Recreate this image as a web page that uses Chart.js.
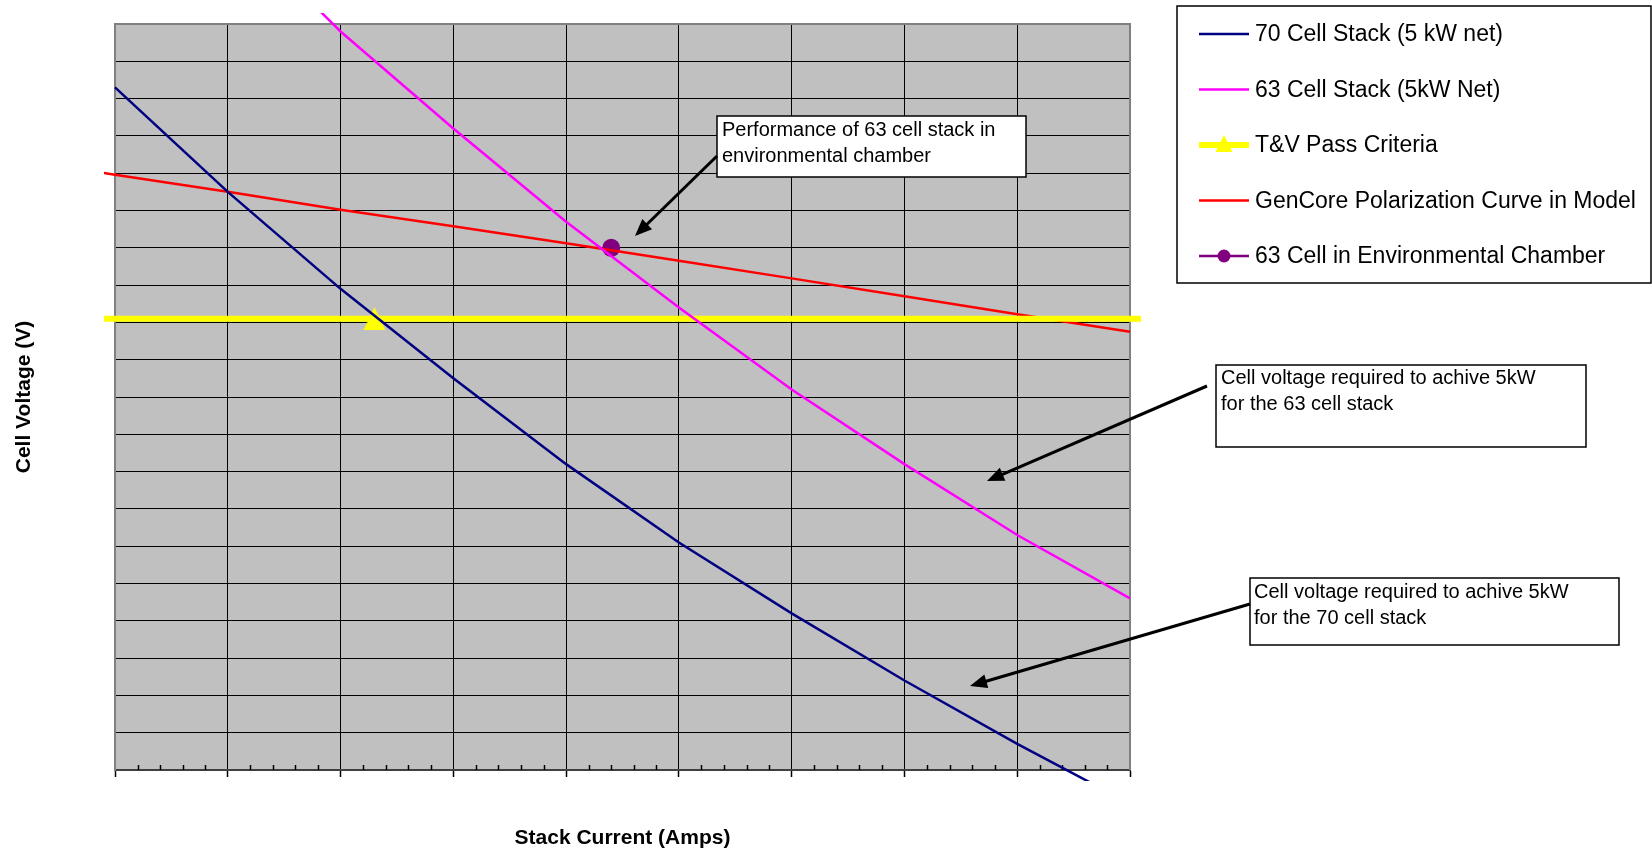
<!DOCTYPE html>
<html>
<head>
<meta charset="utf-8">
<title>Cell voltage vs stack current</title>
<script src="https://cdn.jsdelivr.net/npm/chart.js@4.4.1/dist/chart.umd.min.js"></script>
<style>
  html, body { margin: 0; padding: 0; background: #fff; }
  #wrap { width: 1652px; height: 850px; position: relative; }
</style>
</head>
<body>
<div id="wrap"><canvas id="chart-1" width="1652" height="850"></canvas></div>
<script>
// data (x = stack current in A, y = cell voltage in V)

const stack70Amps = [115, 120, 125, 130, 135, 140, 145, 150, 155, 160];
const stack70Volts = [0.683, 0.655, 0.629, 0.605, 0.582, 0.561, 0.542, 0.524, 0.507, 0.491];

const stack63Amps = [120, 125, 130, 135, 140, 145, 150, 155, 160];
const stack63Volts = [0.728, 0.698, 0.672, 0.647, 0.624, 0.602, 0.582, 0.563, 0.546];

const passAmps = [105, 126.5, 170];
const passVolts = [0.621, 0.621, 0.621];

const genCoreAmps = [110, 115, 120, 125, 130, 135, 140, 145, 150, 155, 160, 165];
const genCoreVolts = [0.664, 0.6596, 0.655, 0.6502, 0.6458, 0.6412, 0.6365, 0.6318, 0.627, 0.6222, 0.6175, 0.613];

const chamberAmps = [137];
const chamberVolts = [0.640];

const seriesNames = [
    "70 Cell Stack (5 kW net)",
    "63 Cell Stack (5kW Net)",
    "T&V Pass Criteria",
    "GenCore Polarization Curve in Model",
    "63 Cell in Environmental Chamber"
];

const xTitle = "Stack Current (Amps)";
const yTitle = "Cell Voltage (V)";

const note1 = ["Performance of 63 cell stack in", "environmental chamber"];
const note2 = ["Cell voltage required to achive 5kW", "for the 63 cell stack"];
const note3 = ["Cell voltage required to achive 5kW", "for the 70 cell stack"];


function toPoints(xs, ys) {
    let pts = [];
    for (let i = 0; i < xs.length; i++) {
        pts.push({ x: xs[i], y: ys[i] });
    }
    return pts;
}

const FONT = "'Liberation Sans', Arial, Helvetica, sans-serif";

// yellow triangle marker, like the excel one (a bit taller than wide)
function makeTriangle(w, h, color) {
    const c = document.createElement("canvas");
    c.width = w;
    c.height = h;
    const g = c.getContext("2d");
    g.fillStyle = color;
    g.beginPath();
    g.moveTo(w / 2, 0);
    g.lineTo(w, h);
    g.lineTo(0, h);
    g.closePath();
    g.fill();
    return c;
}
const triMarker = makeTriangle(22, 23, "#ffff00");

// arrow from (x1,y1) to tip (x2,y2)
function drawArrow(ctx, x1, y1, x2, y2) {
    const ang = Math.atan2(y2 - y1, x2 - x1);
    const len = 17, half = 7;
    ctx.save();
    ctx.strokeStyle = "#000";
    ctx.fillStyle = "#000";
    ctx.lineWidth = 3;
    ctx.beginPath();
    ctx.moveTo(x1, y1);
    ctx.lineTo(x2 - Math.cos(ang) * (len - 2), y2 - Math.sin(ang) * (len - 2));
    ctx.stroke();
    ctx.beginPath();
    ctx.moveTo(x2, y2);
    ctx.lineTo(x2 - Math.cos(ang) * len - Math.sin(ang) * half, y2 - Math.sin(ang) * len + Math.cos(ang) * half);
    ctx.lineTo(x2 - Math.cos(ang) * len + Math.sin(ang) * half, y2 - Math.sin(ang) * len - Math.cos(ang) * half);
    ctx.closePath();
    ctx.fill();
    ctx.restore();
}

function drawNote(ctx, box, lines, textX, firstY) {
    ctx.save();
    ctx.fillStyle = "#fff";
    ctx.fillRect(box[0], box[1], box[2] - box[0], box[3] - box[1]);
    ctx.strokeStyle = "#000";
    ctx.lineWidth = 1.5;
    ctx.strokeRect(box[0], box[1], box[2] - box[0], box[3] - box[1]);
    ctx.fillStyle = "#000";
    ctx.font = "20px " + FONT;
    ctx.textBaseline = "middle";
    ctx.textAlign = "left";
    for (let i = 0; i < lines.length; i++) {
        ctx.fillText(lines[i], textX, firstY + i * 26.5);
    }
    ctx.restore();
}

const plotDeco = {
    id: "plotDeco",
    beforeDraw(chart) {
        const a = chart.chartArea;
        const ctx = chart.ctx;
        ctx.save();
        ctx.fillStyle = "#fff";
        ctx.fillRect(0, 0, chart.width, chart.height);
        ctx.fillStyle = "#c0c0c0";
        ctx.fillRect(a.left, a.top, a.right - a.left, a.bottom - a.top);
        ctx.restore();
    },
    beforeDatasetsDraw(chart) {
        const a = chart.chartArea;
        const ctx = chart.ctx;
        const xs = chart.scales.x;
        ctx.save();
        // top and right frame
        ctx.strokeStyle = "#808080";
        ctx.lineWidth = 2;
        ctx.beginPath();
        ctx.moveTo(a.left, a.top);
        ctx.lineTo(a.right, a.top);
        ctx.lineTo(a.right, a.bottom);
        ctx.stroke();
        // minor ticks on the current axis, pointing inside
        ctx.strokeStyle = "#000";
        ctx.lineWidth = 1.5;
        for (let v = xs.min; v <= xs.max; v++) {
            if ((v - xs.min) % 5 === 0) continue;
            const px = Math.round(xs.getPixelForValue(v)) + 0.5;
            ctx.beginPath();
            ctx.moveTo(px, a.bottom);
            ctx.lineTo(px, a.bottom - 5);
            ctx.stroke();
        }
        ctx.restore();
    },
    afterDraw(chart) {
        const ctx = chart.ctx;
        const a = chart.chartArea;
        ctx.save();

        // axis titles
        ctx.fillStyle = "#000";
        ctx.font = "bold 21px " + FONT;
        ctx.textAlign = "center";
        ctx.textBaseline = "middle";
        ctx.fillText(xTitle, (a.left + a.right) / 2, 838);
        ctx.save();
        ctx.translate(24, (a.top + a.bottom) / 2);
        ctx.rotate(-Math.PI / 2);
        ctx.fillText(yTitle, 0, 0);
        ctx.restore();

        // legend box
        ctx.fillStyle = "#fff";
        ctx.fillRect(1177, 6, 474, 277);
        ctx.strokeStyle = "#000";
        ctx.lineWidth = 1.5;
        ctx.strokeRect(1177, 6, 474, 277);

        const rowY = [34, 89.5, 145, 200.5, 256];
        chart.data.datasets.forEach(function(ds, i) {
            const y = rowY[i];
            ctx.strokeStyle = ds.borderColor;
            ctx.lineWidth = ds.borderWidth;
            ctx.beginPath();
            ctx.moveTo(1199, y);
            ctx.lineTo(1249, y);
            ctx.stroke();
            if (ds.legendMarker === "triangle") {
                ctx.fillStyle = ds.borderColor;
                ctx.beginPath();
                ctx.moveTo(1224, y - 10);
                ctx.lineTo(1232.5, y + 7);
                ctx.lineTo(1215.5, y + 7);
                ctx.closePath();
                ctx.fill();
            } else if (ds.legendMarker === "circle") {
                ctx.fillStyle = ds.backgroundColor;
                ctx.beginPath();
                ctx.arc(1224, y, 6.5, 0, Math.PI * 2);
                ctx.fill();
            }
            ctx.fillStyle = "#000";
            ctx.font = "23px " + FONT;
            ctx.textAlign = "left";
            ctx.textBaseline = "middle";
            ctx.fillText(ds.label, 1255, y + 1);
        });

        // callouts
        drawNote(ctx, [717, 116, 1026, 177], note1, 722, 130);
        drawArrow(ctx, 717, 156, 635, 236);

        drawNote(ctx, [1216, 365, 1586, 447], note2, 1221, 378);
        drawArrow(ctx, 1207, 386, 987, 481);

        drawNote(ctx, [1250, 578, 1619, 645], note3, 1254, 592);
        drawArrow(ctx, 1250, 604, 970, 686);

        ctx.restore();
    }
};

const chartOne = document.getElementById("chart-1");

new Chart(chartOne, {
    type: "scatter",
    data: {
        datasets: [{
            label: seriesNames[0],
            data: toPoints(stack70Amps, stack70Volts),
            showLine: true,
            borderColor: "#000080",
            backgroundColor: "#000080",
            borderWidth: 2.5,
            pointRadius: 0,
            clip: 11
        }, {
            label: seriesNames[1],
            data: toPoints(stack63Amps, stack63Volts),
            showLine: true,
            borderColor: "#ff00ff",
            backgroundColor: "#ff00ff",
            borderWidth: 2.5,
            pointRadius: 0,
            clip: 11
        }, {
            label: seriesNames[2],
            data: toPoints(passAmps, passVolts),
            showLine: true,
            borderColor: "#ffff00",
            backgroundColor: "#ffff00",
            borderWidth: 6,
            pointStyle: triMarker,
            pointRadius: [0, 12, 0],
            pointBorderWidth: 0,
            legendMarker: "triangle",
            clip: 11
        }, {
            label: seriesNames[3],
            data: toPoints(genCoreAmps, genCoreVolts),
            showLine: true,
            borderColor: "#ff0000",
            backgroundColor: "#ff0000",
            borderWidth: 2.5,
            pointRadius: 0,
            clip: 11
        }, {
            label: seriesNames[4],
            data: toPoints(chamberAmps, chamberVolts),
            showLine: true,
            borderColor: "#800080",
            backgroundColor: "#800080",
            borderWidth: 2.5,
            pointRadius: 9,
            pointBorderWidth: 0,
            legendMarker: "circle",
            clip: 11
        }]
    },
    options: {
        responsive: false,
        animation: false,
        events: [],
        layout: {
            padding: { left: 115, top: 24, right: 522, bottom: 73 }
        },
        plugins: {
            legend: { display: false },
            tooltip: { enabled: false },
            title: { display: false }
        },
        scales: {
            x: {
                type: "linear",
                min: 115,
                max: 160,
                ticks: { display: false, stepSize: 5 },
                grid: {
                    color: "#000",
                    lineWidth: 1,
                    drawTicks: true,
                    tickLength: 7,
                    tickColor: "#000",
                    tickWidth: 1.5
                },
                border: { display: true, color: "#404040", width: 2 },
                title: { display: false }
            },
            y: {
                type: "linear",
                min: 0.5,
                max: 0.7,
                ticks: { display: false, stepSize: 0.01 },
                grid: {
                    color: "#000",
                    lineWidth: 1,
                    drawTicks: false
                },
                border: { display: true, color: "#808080", width: 2 },
                title: { display: false }
            }
        }
    },
    plugins: [plotDeco]
});
</script>
</body>
</html>
